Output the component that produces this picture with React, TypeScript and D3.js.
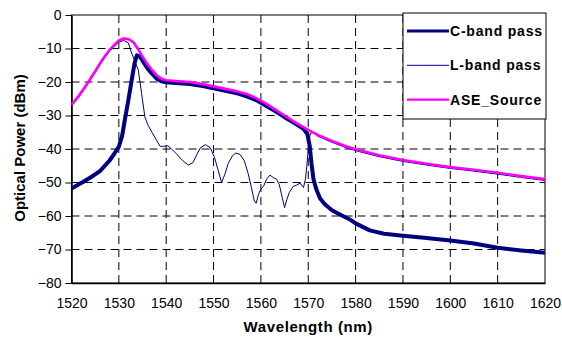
import React, { useEffect, useRef } from 'react';
import * as d3 from 'd3';

// wavelength (nm), optical power (dBm)
const cBand: [number, number][] = [
  [1520, -51.8], [1522.5, -49.8], [1524, -48.5], [1526, -46.6], [1528, -43.5], [1529, -41.5],
  [1530, -39.3], [1530.7, -36], [1531.3, -31], [1532, -25.5], [1532.7, -19.5], [1533.3, -14.5],
  [1533.8, -12], [1534.5, -12.5], [1535.3, -14.3], [1536, -15.8], [1537, -17.5], [1538, -19],
  [1539, -19.8], [1540, -20.1], [1542, -20.3], [1545, -20.6], [1548, -21.3], [1550, -21.9],
  [1553, -22.8], [1555, -23.4], [1557, -24.3], [1559, -25.4], [1561, -27], [1563, -28.7],
  [1565, -30.5], [1567, -32.2], [1569, -34], [1569.8, -35.5], [1570.3, -39], [1570.7, -44.5],
  [1571.1, -49], [1571.7, -52], [1572.5, -54.8], [1573.5, -56.5], [1575, -58.3], [1577, -59.8],
  [1579, -61.2], [1580, -62.2], [1583, -64.3], [1586, -65.3], [1590, -65.9], [1595, -66.6],
  [1600, -67.3], [1605, -68.2], [1610, -69.5], [1615, -70.3], [1620, -71],
];

const lBand: [number, number][] = [
  [1520, -27.2], [1521.5, -24.6], [1523, -21.6], [1525, -17.2], [1526, -14.9], [1527, -12.8],
  [1528, -10.9], [1529, -9.4], [1530, -8.1], [1531, -7.6], [1532, -8.3], [1532.7, -11.4],
  [1533.3, -13.5], [1534.1, -16.4], [1534.8, -23.4], [1535.5, -30.5], [1536.2, -33], [1537, -35],
  [1538, -37.5], [1538.7, -39.2], [1539.5, -39.2], [1540.3, -39], [1541, -39.8], [1542.2, -41.5],
  [1543.5, -43.5], [1544.7, -44.8], [1545.7, -44], [1546.5, -41.5], [1547.3, -39.5], [1548.3, -38.7],
  [1549.3, -39.6], [1550.2, -42.5], [1551, -46.5], [1551.7, -50], [1552.4, -47.5], [1553.1, -44.3],
  [1554, -42], [1554.7, -41.2], [1555.6, -41.6], [1556.5, -43.5], [1557.3, -47.3], [1558, -51.5],
  [1558.6, -55.5], [1559, -56.2], [1559.5, -53.5], [1560, -52], [1560.6, -51], [1561.2, -49],
  [1561.9, -47.8], [1562.6, -48.5], [1563.3, -49], [1563.9, -50.7], [1564.5, -54.5], [1565, -57.5],
  [1565.5, -55], [1566, -53], [1566.8, -51.2], [1567.5, -50.8], [1568.3, -50.2], [1569, -51.5],
  [1569.4, -49], [1569.7, -45], [1570, -40], [1570.4, -35.5], [1571, -35], [1572, -36.2],
  [1575, -38], [1578, -39.6], [1580, -40.5], [1585, -42.3], [1590, -43.7], [1595, -44.8],
  [1600, -45.8], [1605, -46.6], [1610, -47.5], [1615, -48.5], [1620, -49.4],
];

const aseSource: [number, number][] = [
  [1520, -26.8], [1521.5, -24.2], [1523, -21.2], [1525, -16.8], [1526, -14.5], [1527, -12.4],
  [1528, -10.5], [1529, -9], [1530, -7.6], [1531, -7], [1532, -7.2], [1533, -8], [1534, -10],
  [1535, -12.4], [1536, -14.6], [1537, -16.4], [1538, -18], [1539, -19], [1540, -19.5],
  [1542, -19.7], [1545, -20], [1548, -20.7], [1550, -21.3], [1553, -22.2], [1555, -22.8],
  [1557, -23.6], [1559, -24.8], [1561, -26.4], [1563, -28.2], [1565, -30], [1567, -31.8],
  [1569, -33.5], [1570, -34.3], [1572, -35.8], [1575, -37.6], [1578, -39.2], [1580, -40.1],
  [1585, -41.9], [1590, -43.3], [1595, -44.4], [1600, -45.4], [1605, -46.2], [1610, -47.1],
  [1615, -48.1], [1620, -49],
];

const xTicks = [1520, 1530, 1540, 1550, 1560, 1570, 1580, 1590, 1600, 1610, 1620];
const yTicks = [0, -10, -20, -30, -40, -50, -60, -70, -80];

const seriesNames = ['C-band pass', 'L-band pass', 'ASE_Source'];

function App() {
  const svgRef = useRef<SVGSVGElement>(null);

  useEffect(() => {
    const width = 562;
    const height = 340;
    const margin = { top: 15, right: 17, bottom: 57, left: 71.5 };
    const font = '"Liberation Sans", Arial, sans-serif';

    d3.select(svgRef.current).selectAll('*').remove();
    const svg = d3.select(svgRef.current)
      .attr('width', width)
      .attr('height', height)
      .style('font-family', font);

    const x = d3.scaleLinear().domain([1520, 1620]).range([margin.left, width - margin.right]);
    const y = d3.scaleLinear().domain([-80, 0]).range([height - margin.bottom, margin.top]);

    // dashed grid
    svg.append('g')
      .selectAll('line')
      .data(yTicks.slice(1, -1))
      .enter()
      .append('line')
      .attr('x1', x(1520)).attr('x2', x(1620))
      .attr('y1', d => y(d)).attr('y2', d => y(d))
      .attr('stroke', '#000').attr('stroke-width', 1)
      .attr('stroke-dasharray', '8,5');

    svg.append('g')
      .selectAll('line')
      .data(xTicks.slice(1, -1))
      .enter()
      .append('line')
      .attr('x1', d => x(d)).attr('x2', d => x(d))
      .attr('y1', y(0)).attr('y2', y(-80))
      .attr('stroke', '#000').attr('stroke-width', 1)
      .attr('stroke-dasharray', '8,5');

    // plot frame
    svg.append('rect')
      .attr('x', x(1520)).attr('y', y(0))
      .attr('width', x(1620) - x(1520)).attr('height', y(-80) - y(0))
      .attr('fill', 'none').attr('stroke', '#000').attr('stroke-width', 1);

    // axes
    const xAxis = svg.append('g')
      .attr('transform', `translate(0,${y(-80)})`)
      .call(d3.axisBottom(x).tickValues(xTicks).tickFormat(d3.format('d')).tickSize(0).tickPadding(15));
    xAxis.select('.domain').attr('stroke-width', 1.6);
    xAxis.selectAll('text').attr('font-size', 14).attr('font-family', font).attr('fill', '#000');

    const yAxis = svg.append('g')
      .attr('transform', `translate(${x(1520)},0)`)
      .call(d3.axisLeft(y).tickValues(yTicks).tickFormat(d3.format('d')).tickSize(6).tickSizeOuter(0).tickPadding(4));
    yAxis.select('.domain').attr('stroke-width', 1.6);
    yAxis.selectAll('text').attr('font-size', 14).attr('font-family', font).attr('fill', '#000');

    // curves
    const line = d3.line<[number, number]>()
      .x(d => x(d[0]))
      .y(d => y(d[1]));

    const styles = [
      { data: cBand, color: '#000080', w: 4 },
      { data: lBand, color: '#000080', w: 1 },
      { data: aseSource, color: '#ff00ff', w: 2.6 },
    ];

    svg.append('g')
      .selectAll('path')
      .data(styles)
      .enter()
      .append('path')
      .attr('d', d => line(d.data))
      .attr('fill', 'none')
      .attr('stroke', d => d.color)
      .attr('stroke-width', d => d.w)
      .attr('stroke-linejoin', 'round');

    // legend
    const lg = svg.append('g').attr('transform', 'translate(403,13)');
    lg.append('rect')
      .attr('width', 143).attr('height', 106)
      .attr('fill', '#fff').attr('stroke', '#000').attr('stroke-width', 1);

    const item = lg.selectAll('.item')
      .data(seriesNames)
      .enter()
      .append('g')
      .attr('class', 'item')
      .attr('transform', (d, i) => `translate(0,${18 + i * 34.3})`);

    item.append('line')
      .attr('x1', 4).attr('x2', 46)
      .attr('stroke', (d, i) => styles[i].color)
      .attr('stroke-width', (d, i) => (i === 0 ? 3 : i === 1 ? 1 : 2.2));

    item.append('text')
      .attr('x', 47)
      .attr('y', 5)
      .attr('font-size', 14)
      .attr('font-weight', 'bold')
      .attr('letter-spacing', 0.8)
      .text(d => d);

    // axis titles
    svg.append('text')
      .attr('x', (x(1520) + x(1620)) / 2)
      .attr('y', 332)
      .attr('text-anchor', 'middle')
      .attr('font-size', 15)
      .attr('font-weight', 'bold')
      .attr('letter-spacing', 0.6)
      .text('Wavelength (nm)');

    svg.append('text')
      .attr('transform', 'translate(25,148) rotate(-90)')
      .attr('text-anchor', 'middle')
      .attr('font-size', 15)
      .attr('font-weight', 'bold')
      .text('Optical Power (dBm)');
  }, []);

  return (
    <svg ref={svgRef} style={{ position: 'absolute', left: 0, top: 0, background: '#fff' }}></svg>
  );
}

export default App;
